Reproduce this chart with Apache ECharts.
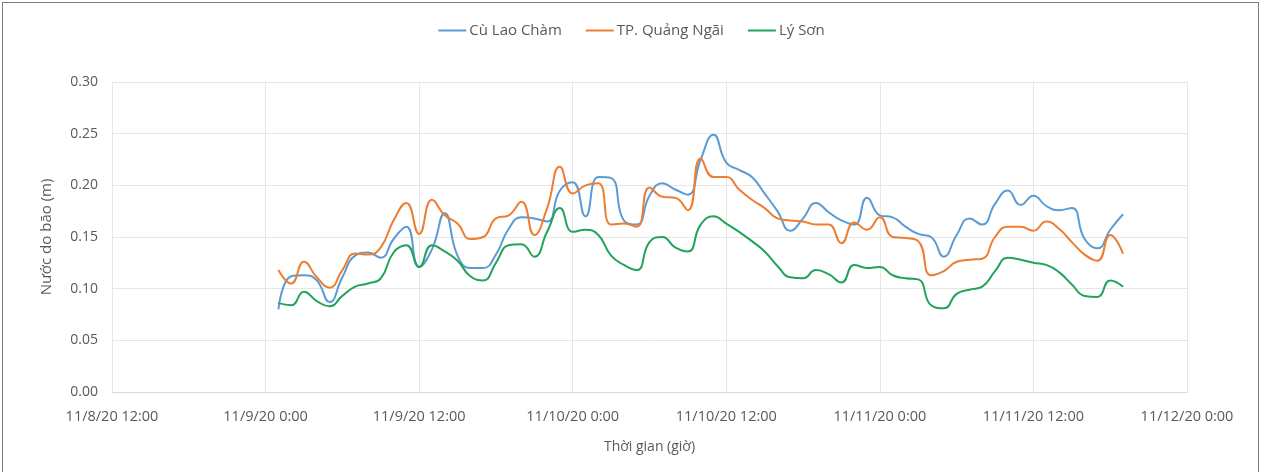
<!DOCTYPE html>
<html>
<head>
<meta charset="utf-8">
<script src="https://cdn.jsdelivr.net/npm/echarts@6/dist/echarts.min.js"></script>
<style>
html,body{margin:0;padding:0;background:#fff;}
#frame{position:absolute;left:2px;top:2px;width:1257px;height:476px;border:1px solid #7f7f7f;box-sizing:border-box;}
#c{position:absolute;left:0;top:0;width:1263px;height:472px;}
</style>
</head>
<body>
<div id="frame"></div>
<div id="c"></div>
<script>
// Hourly records starting 11/9/2020 01:00
const startTime = Date.UTC(2020, 10, 9, 1);
const seriesNames = ['Cù Lao Chàm', 'TP. Quảng Ngãi', 'Lý Sơn'];
const cuLaoCham = [0.080,0.112,0.113,0.108,0.087,0.111,0.132,0.135,0.130,0.148,0.160,0.121,0.138,0.173,0.132,0.120,0.120,0.133,0.158,0.169,0.168,0.165,0.195,0.203,0.170,0.208,0.207,0.166,0.162,0.190,0.202,0.196,0.191,0.225,0.249,0.222,0.215,0.208,0.192,0.175,0.156,0.168,0.183,0.174,0.166,0.162,0.188,0.171,0.169,0.160,0.153,0.150,0.131,0.152,0.168,0.162,0.182,0.195,0.181,0.190,0.180,0.176,0.178,0.148,0.139,0.157,0.172];
const quangNgai = [0.118,0.105,0.126,0.111,0.101,0.118,0.134,0.133,0.140,0.166,0.183,0.153,0.186,0.171,0.163,0.148,0.150,0.168,0.171,0.184,0.152,0.178,0.218,0.192,0.200,0.202,0.162,0.163,0.160,0.198,0.189,0.188,0.176,0.226,0.208,0.208,0.196,0.186,0.178,0.168,0.166,0.165,0.162,0.162,0.144,0.164,0.157,0.169,0.150,0.149,0.146,0.113,0.117,0.126,0.128,0.129,0.150,0.160,0.160,0.156,0.165,0.158,0.145,0.133,0.127,0.152,0.134];
const lySon = [0.086,0.084,0.097,0.088,0.083,0.093,0.102,0.105,0.110,0.135,0.142,0.121,0.142,0.136,0.127,0.112,0.108,0.125,0.142,0.143,0.131,0.155,0.178,0.155,0.157,0.152,0.132,0.123,0.118,0.145,0.150,0.140,0.136,0.162,0.170,0.163,0.155,0.146,0.136,0.122,0.111,0.110,0.118,0.114,0.106,0.123,0.120,0.121,0.113,0.110,0.109,0.084,0.081,0.095,0.099,0.102,0.117,0.130,0.128,0.125,0.123,0.116,0.104,0.093,0.092,0.108,0.102];
const yTicks = [0, 0.05, 0.10, 0.15, 0.20, 0.25, 0.30];
const xMin = Date.UTC(2020, 10, 8, 12);
const xMax = Date.UTC(2020, 10, 12, 0);
const HOUR = 3600000;

const times = cuLaoCham.map((_, i) => startTime + i * HOUR);
const pair = arr => arr.map((v, i) => [times[i], v]);
const colors = ['#5B9BD5', '#ED7D31', '#23A35A'];
const fontFamily = '"Open Sans", "Liberation Sans", sans-serif';

function fmtX(v) {
  const d = new Date(v);
  return (d.getUTCMonth() + 1) + '/' + d.getUTCDate() + '/' + String(d.getUTCFullYear()).slice(2) + ' ' + d.getUTCHours() + ':00';
}

const chart = echarts.init(document.getElementById('c'));
chart.setOption({
  animation: false,
  color: colors,
  textStyle: { fontFamily: fontFamily, color: '#595959' },
  legend: {
    top: 18, left: 'center',
    itemWidth: 28, itemHeight: 2, itemGap: 24,
    icon: 'rect',
    textStyle: { fontSize: 15, color: '#595959', fontFamily: fontFamily, padding: [0, 0, 0, -2] },
    data: seriesNames
  },
  grid: { left: 112, right: 76, top: 82, bottom: 80, containLabel: false },
  xAxis: {
    type: 'value', min: xMin, max: xMax, interval: 12 * HOUR,
    name: 'Thời gian (giờ)', nameLocation: 'middle', nameGap: 48,
    nameTextStyle: { fontSize: 14, color: '#595959', fontFamily: fontFamily },
    axisLine: { show: true, lineStyle: { color: '#d9d9d9' } },
    axisTick: { show: false },
    axisLabel: { formatter: fmtX, fontSize: 14.5, color: '#595959', margin: 17, fontFamily: fontFamily },
    splitLine: { show: true, lineStyle: { color: '#e6e6e6' } }
  },
  yAxis: {
    type: 'value', min: yTicks[0], max: yTicks[yTicks.length - 1], interval: 0.05,
    name: 'Nước do bão (m)', nameLocation: 'middle', nameGap: 58, nameRotate: 90,
    nameTextStyle: { fontSize: 15, color: '#595959', fontFamily: fontFamily },
    axisLine: { show: false }, axisTick: { show: false },
    axisLabel: { formatter: v => v.toFixed(2), fontSize: 14, color: '#595959', margin: 14, fontFamily: fontFamily },
    splitLine: { show: true, lineStyle: { color: '#e6e6e6' } }
  },
  series: [
    { name: seriesNames[0], type: 'line', smooth: 0.5, showSymbol: false, data: pair(cuLaoCham), lineStyle: { width: 2 } },
    { name: seriesNames[1], type: 'line', smooth: 0.5, showSymbol: false, data: pair(quangNgai), lineStyle: { width: 2 } },
    { name: seriesNames[2], type: 'line', smooth: 0.5, showSymbol: false, data: pair(lySon), lineStyle: { width: 2 } }
  ]
});
</script>
</body>
</html>
